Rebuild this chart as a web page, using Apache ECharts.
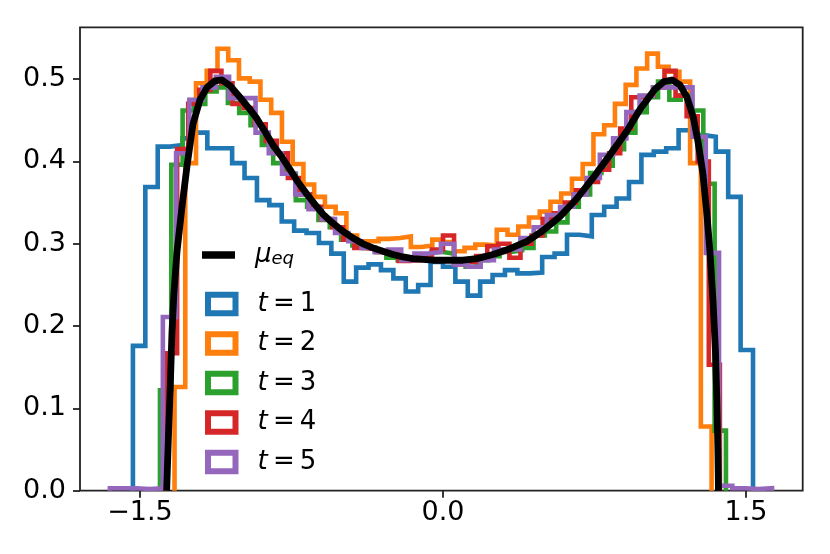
<!DOCTYPE html>
<html><head><meta charset="utf-8">
<script src="https://cdn.jsdelivr.net/npm/echarts@6/dist/echarts.min.js"></script>
<style>html,body{margin:0;padding:0;background:#fff}#c{width:830px;height:554px}</style>
</head><body><div id="c"></div>
<script>
// ---- axis ticks ----
const xTicks = [-1.5, 0, 1.5];
const yTicks = [0, 0.1, 0.2, 0.3, 0.4, 0.5];

// ---- series names ----
const muName = 'μeq';
const histNames = ['t = 1', 't = 2', 't = 3', 't = 4', 't = 5'];

// ---- histogram bin ranges (first edge, last edge), 50 bins each ----
const range1 = [-1.535, 1.535];
const range2 = [-1.329, 1.330];
const range3 = [-1.401, 1.401];
const range4 = [-1.371, 1.371];
const range5 = [-1.649, 1.629];

// ---- histogram densities ----
const t1 = [0.176,0.369,0.418,0.420,0.428,0.435,0.416,0.416,0.398,0.380,
            0.353,0.347,0.327,0.316,0.313,0.301,0.288,0.254,0.271,0.275,
            0.268,0.258,0.242,0.250,0.278,0.272,0.254,0.237,0.254,0.262,
            0.268,0.264,0.265,0.284,0.288,0.311,0.309,0.335,0.345,0.355,
            0.375,0.408,0.412,0.416,0.438,0.432,0.430,0.412,0.357,0.171];
const t2 = [0.126,0.398,0.495,0.510,0.537,0.523,0.501,0.497,0.475,0.459,
            0.424,0.397,0.372,0.357,0.345,0.337,0.310,0.303,0.303,0.306,
            0.307,0.309,0.296,0.298,0.305,0.302,0.291,0.295,0.299,0.298,
            0.317,0.311,0.321,0.332,0.339,0.351,0.361,0.379,0.397,0.433,
            0.444,0.470,0.493,0.513,0.531,0.515,0.509,0.497,0.398,0.078];
const t3 = [0.122,0.396,0.462,0.470,0.485,0.490,0.471,0.459,0.444,0.420,
            0.398,0.385,0.353,0.345,0.329,0.320,0.305,0.298,0.295,0.290,
            0.283,0.280,0.282,0.285,0.290,0.288,0.280,0.272,0.280,0.285,
            0.290,0.292,0.295,0.310,0.315,0.326,0.345,0.360,0.386,0.395,
            0.415,0.435,0.460,0.478,0.497,0.475,0.480,0.462,0.373,0.073];
const t4 = [0.167,0.415,0.470,0.487,0.510,0.495,0.470,0.465,0.445,0.425,
            0.410,0.380,0.360,0.345,0.330,0.320,0.305,0.295,0.293,0.290,
            0.288,0.279,0.280,0.286,0.293,0.310,0.275,0.278,0.285,0.297,
            0.300,0.283,0.300,0.310,0.330,0.337,0.350,0.365,0.375,0.390,
            0.410,0.440,0.478,0.480,0.490,0.510,0.480,0.455,0.400,0.153];
const t5 = [0.003,0.003,0.002,0.003,0.211,0.410,0.475,0.490,0.503,0.477,
            0.477,0.435,0.410,0.385,0.360,0.342,0.330,0.313,0.303,0.295,
            0.290,0.293,0.280,0.288,0.290,0.300,0.275,0.272,0.280,0.293,
            0.293,0.307,0.320,0.335,0.345,0.360,0.380,0.408,0.428,0.460,
            0.480,0.490,0.490,0.490,0.430,0.289,0.006,0.003,0.002,0.003];

// ---- equilibrium density curve ----
const muX = [-1.368,-1.360,-1.351,-1.342,-1.332,-1.317,-1.292,-1.267,-1.238,-1.203,
             -1.168,-1.129,-1.094,-1.054,-1.005,-0.955,-0.921,-0.881,-0.842,-0.797,
             -0.757,-0.718,-0.673,-0.634,-0.594,-0.545,-0.495,-0.446,-0.396,-0.347,
             -0.297,-0.248,-0.198,-0.149,-0.099,-0.050,0.000,0.050,0.099,0.168,
             0.248,0.332,0.416,0.495,0.579,0.663,0.743,0.827,0.911,0.975,
             1.050,1.094,1.134,1.173,1.208,1.238,1.262,1.287,1.307,1.322,
             1.337,1.349,1.356,1.361,1.364];
const muY = [0.000,0.060,0.120,0.190,0.240,0.290,0.345,0.395,0.445,0.475,
             0.490,0.498,0.499,0.492,0.478,0.463,0.452,0.436,0.420,0.405,
             0.390,0.375,0.360,0.348,0.336,0.325,0.315,0.307,0.300,0.295,
             0.291,0.287,0.284,0.282,0.281,0.280,0.280,0.280,0.280,0.282,
             0.287,0.294,0.303,0.316,0.333,0.355,0.380,0.408,0.437,0.463,
             0.488,0.497,0.499,0.493,0.478,0.455,0.425,0.385,0.335,0.290,
             0.230,0.170,0.110,0.050,0.000];

const colors = ['#1f77b4', '#ff7f0e', '#2ca02c', '#d62728', '#9467bd'];
const ranges = [range1, range2, range3, range4, range5];
const heights = [t1, t2, t3, t4, t5];

function stepOutline(range, h) {
  const n = h.length, w = (range[1] - range[0]) / n;
  const pts = [[range[0], 0]];
  for (let i = 0; i < n; i++) {
    const a = range[0] + i * w, b = range[0] + (i + 1) * w;
    pts.push([a, h[i]], [b, h[i]]);
  }
  pts.push([range[1], 0]);
  return pts;
}

const FONT = 'DejaVu Sans';
const series = histNames.map((name, k) => ({
  name, type: 'line', data: stepOutline(ranges[k], heights[k]),
  showSymbol: false, symbol: 'none', silent: true, animation: false,
  itemStyle: { color: colors[k] },
  lineStyle: { color: colors[k], width: 4.6, join: 'miter', cap: 'butt' }
}));
series.push({
  name: muName, type: 'line', data: muX.map((x, i) => [x, muY[i]]),
  showSymbol: false, symbol: 'none', silent: true, animation: false,
  itemStyle: { color: '#000' },
  lineStyle: { color: '#000', width: 6.8, join: 'round', cap: 'butt' }
});

const chart = echarts.init(document.getElementById('c'), null, { renderer: 'canvas' });
chart.setOption({
  animation: false,
  backgroundColor: '#fff',
  grid: { left: 80, right: 27.3, top: 27.3, bottom: 63.3, show: true,
          borderColor: '#222', borderWidth: 1.8, backgroundColor: 'transparent' },
  xAxis: {
    type: 'value', min: -1.797, max: 1.781,
    axisLine: { show: false, onZero: false },
    splitLine: { show: false },
    axisTick: { show: true, customValues: xTicks, length: 7, lineStyle: { color: '#222', width: 1.8 } },
    axisLabel: { customValues: xTicks, margin: 9, fontSize: 27, color: '#000', fontFamily: FONT,
                 formatter: v => (v < 0 ? '\u2212' : '') + Math.abs(v).toFixed(1) }
  },
  yAxis: {
    type: 'value', min: 0, max: 0.563,
    axisLine: { show: false, onZero: false },
    splitLine: { show: false },
    axisTick: { show: true, customValues: yTicks, length: 7, lineStyle: { color: '#222', width: 1.8 } },
    axisLabel: { customValues: yTicks, margin: 14, fontSize: 27, color: '#000', fontFamily: FONT,
                 formatter: v => v.toFixed(1) }
  },
  legend: [
    {
      orient: 'vertical', left: 197, top: 237, itemWidth: 33, itemHeight: 7.5,
      selectedMode: false,
      data: [{ name: muName, icon: 'rect', itemStyle: { color: '#000', borderWidth: 0 } }],
      formatter: () => '{m|μ}{s|eq}',
      textStyle: {
        padding: [0, 0, 0, 15],
        rich: {
          m: { fontFamily: FONT, fontStyle: 'italic', fontSize: 26, color: '#000', lineHeight: 26, verticalAlign: 'bottom' },
          s: { fontFamily: FONT, fontStyle: 'italic', fontSize: 18, color: '#000', lineHeight: 16, verticalAlign: 'bottom' }
        }
      }
    },
    {
      orient: 'vertical', left: 200, top: 286, itemWidth: 27.5, itemHeight: 18.5, itemGap: 13.5,
      selectedMode: false,
      data: histNames.map((n, k) => ({ name: n, icon: 'rect',
        itemStyle: { color: 'rgba(0,0,0,0)', borderColor: colors[k], borderWidth: 6 } })),
      formatter: n => '{i|t}\u2009=\u2009' + n.slice(4),
      textStyle: {
        fontFamily: FONT, fontSize: 26, color: '#000', lineHeight: 20, padding: [0, 0, 0, 17],
        rich: { i: { fontFamily: FONT, fontStyle: 'italic', fontSize: 26, color: '#000', lineHeight: 20 } }
      }
    }
  ],
  series
});
</script>
</body></html>
